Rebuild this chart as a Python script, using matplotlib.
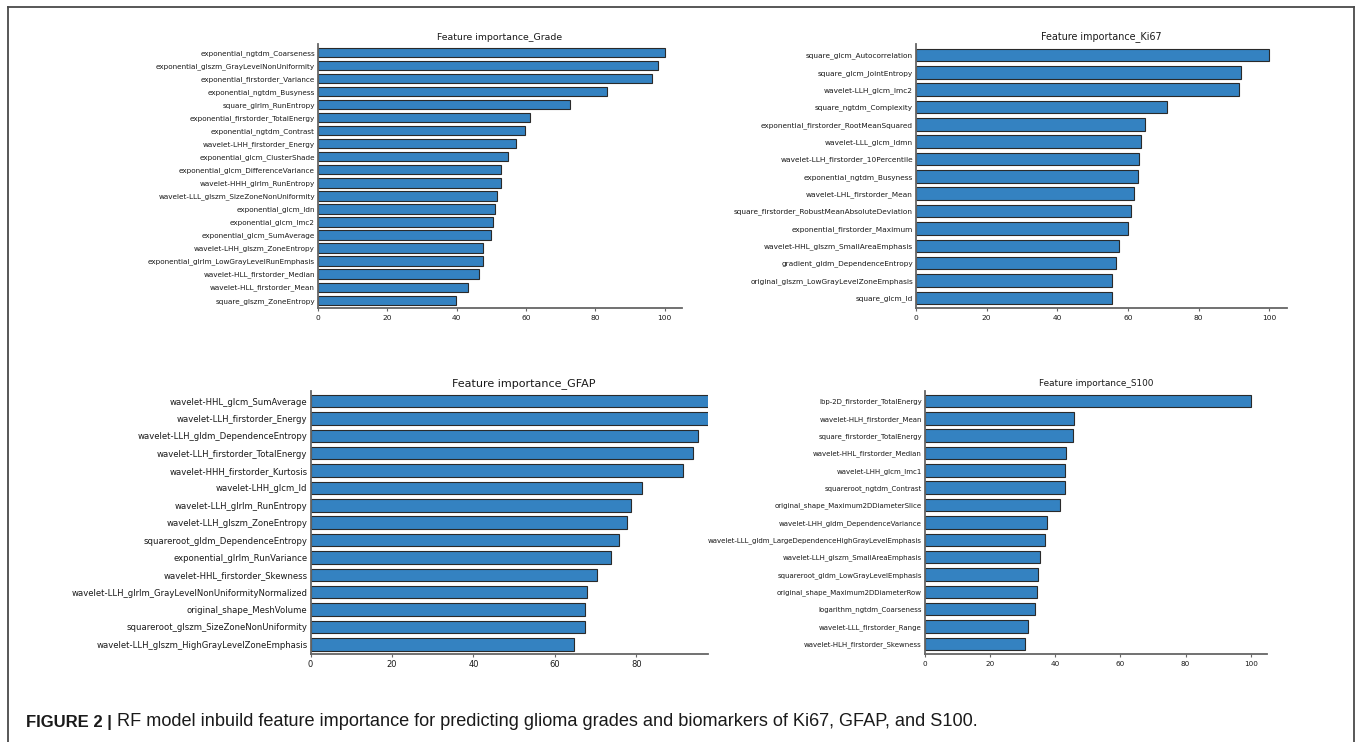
import matplotlib
matplotlib.use("Agg")
import matplotlib.pyplot as plt
from matplotlib.lines import Line2D

# ---------------- data ----------------
grade_features = [
    "exponential_ngtdm_Coarseness", "exponential_glszm_GrayLevelNonUniformity",
    "exponential_firstorder_Variance", "exponential_ngtdm_Busyness",
    "square_glrlm_RunEntropy", "exponential_firstorder_TotalEnergy",
    "exponential_ngtdm_Contrast", "wavelet-LHH_firstorder_Energy",
    "exponential_glcm_ClusterShade", "exponential_glcm_DifferenceVariance",
    "wavelet-HHH_glrlm_RunEntropy", "wavelet-LLL_glszm_SizeZoneNonUniformity",
    "exponential_glcm_Idn", "exponential_glcm_Imc2", "exponential_glcm_SumAverage",
    "wavelet-LHH_glszm_ZoneEntropy", "exponential_glrlm_LowGrayLevelRunEmphasis",
    "wavelet-HLL_firstorder_Median", "wavelet-HLL_firstorder_Mean",
    "square_glszm_ZoneEntropy",
]
grade_importance = [100, 98.2, 96.4, 83.4, 72.8, 61.1, 59.8, 57.0, 54.8, 52.7,
                    52.7, 51.7, 51.2, 50.5, 49.9, 47.7, 47.7, 46.4, 43.4, 39.7]

ki67_features = [
    "square_glcm_Autocorrelation", "square_glcm_JointEntropy", "wavelet-LLH_glcm_Imc2",
    "square_ngtdm_Complexity", "exponential_firstorder_RootMeanSquared",
    "wavelet-LLL_glcm_Idmn", "wavelet-LLH_firstorder_10Percentile",
    "exponential_ngtdm_Busyness", "wavelet-LHL_firstorder_Mean",
    "square_firstorder_RobustMeanAbsoluteDeviation", "exponential_firstorder_Maximum",
    "wavelet-HHL_glszm_SmallAreaEmphasis", "gradient_gldm_DependenceEntropy",
    "original_glszm_LowGrayLevelZoneEmphasis", "square_glcm_Id",
]
ki67_importance = [100, 92.1, 91.3, 70.9, 64.7, 63.7, 63.2, 62.9, 61.8, 60.8,
                   60.0, 57.4, 56.7, 55.6, 55.6]

gfap_features = [
    "wavelet-HHL_glcm_SumAverage", "wavelet-LLH_firstorder_Energy",
    "wavelet-LLH_gldm_DependenceEntropy", "wavelet-LLH_firstorder_TotalEnergy",
    "wavelet-HHH_firstorder_Kurtosis", "wavelet-LHH_glcm_Id",
    "wavelet-LLH_glrlm_RunEntropy", "wavelet-LLH_glszm_ZoneEntropy",
    "squareroot_gldm_DependenceEntropy", "exponential_glrlm_RunVariance",
    "wavelet-HHL_firstorder_Skewness", "wavelet-LLH_glrlm_GrayLevelNonUniformityNormalized",
    "original_shape_MeshVolume", "squareroot_glszm_SizeZoneNonUniformity",
    "wavelet-LLH_glszm_HighGrayLevelZoneEmphasis",
]
gfap_importance = [100, 99.5, 95.2, 93.9, 91.5, 81.4, 78.6, 77.6, 75.7, 73.8,
                   70.3, 67.9, 67.5, 67.4, 64.7]

s100_features = [
    "lbp-2D_firstorder_TotalEnergy", "wavelet-HLH_firstorder_Mean",
    "square_firstorder_TotalEnergy", "wavelet-HHL_firstorder_Median",
    "wavelet-LHH_glcm_Imc1", "squareroot_ngtdm_Contrast",
    "original_shape_Maximum2DDiameterSlice", "wavelet-LHH_gldm_DependenceVariance",
    "wavelet-LLL_gldm_LargeDependenceHighGrayLevelEmphasis",
    "wavelet-LLH_glszm_SmallAreaEmphasis", "squareroot_gldm_LowGrayLevelEmphasis",
    "original_shape_Maximum2DDiameterRow", "logarithm_ngtdm_Coarseness",
    "wavelet-LLL_firstorder_Range", "wavelet-HLH_firstorder_Skewness",
]
s100_importance = [100, 45.7, 45.4, 43.2, 43.0, 43.0, 41.6, 37.4, 36.8, 35.2,
                   34.8, 34.4, 33.8, 31.5, 30.6]

x_ticks = [0, 20, 40, 60, 80, 100]
caption_bold = "FIGURE 2 |"
caption_text = ("RF model inbuild feature importance for predicting glioma grades "
                "and biomarkers of Ki67, GFAP, and S100.")

# ---------------- styling ----------------
W, H = 1357, 742
BAR = "#3482c1"
EDGE = "#2a2a2a"
SPINE = "#666666"
TXT = "#1a1a1a"

plt.rcParams["font.family"] = ["DejaVu Sans"]
fig = plt.figure(figsize=(W / 100, H / 100), dpi=100)
fig.patch.set_facecolor("white")


def px_axes(x0, y0, x1, y1):
    return fig.add_axes([x0 / W, 1 - y1 / H, (x1 - x0) / W, (y1 - y0) / H])


def panel(ax, feats, vals, title, xmax, top_m, bot_m, ysize, xsize, tsize,
          title_x=0.5, pad=3.2):
    n = len(feats)
    pos = list(range(n))
    ax.barh(pos, vals, height=0.72, color=BAR, edgecolor=EDGE, linewidth=0.8)
    ax.set_yticks(pos)
    ax.set_yticklabels(feats, fontsize=ysize, color=TXT)
    ax.set_xticks(x_ticks)
    ax.set_xticklabels([str(t) for t in x_ticks], fontsize=xsize, color=TXT)
    ax.set_xlim(0, xmax)
    ax.set_ylim(n - 1 + bot_m, -top_m)
    for s in ("top", "right"):
        ax.spines[s].set_visible(False)
    for s in ("left", "bottom"):
        ax.spines[s].set_color(SPINE)
        ax.spines[s].set_linewidth(1.3)
    ax.tick_params(axis="y", length=0, pad=2.2)
    ax.tick_params(axis="x", length=2.5, width=0.8, color=SPINE, pad=2.2)
    t = ax.set_title(title, fontsize=tsize, color=TXT, pad=pad)
    t.set_x(title_x)


ax1 = px_axes(318, 44, 682, 308)
panel(ax1, grade_features, grade_importance, "Feature importance_Grade", 105,
      0.636, 0.59, 5.25, 5.4, 6.75)

ax2 = px_axes(916, 44, 1287, 308)
panel(ax2, ki67_features, ki67_importance, "Feature importance_Ki67", 105,
      0.634, 0.59, 5.3, 5.4, 6.9)

ax3 = px_axes(310.5, 390.7, 707.7, 653.7)
panel(ax3, gfap_features, gfap_importance, "Feature importance_GFAP", 97.5,
      0.593, 0.54, 6.1, 6.0, 8.0, title_x=0.538, pad=3.6)

ax4 = px_axes(925, 390.7, 1267, 654)
panel(ax4, s100_features, s100_importance, "Feature importance_S100", 105,
      0.59, 0.58, 5.0, 5.2, 6.4, pad=3.6)

# frame around the figure panel (open at bottom edge)
frame_kw = dict(color="#4a4a4a", linewidth=1.3, transform=fig.transFigure)
fig.add_artist(Line2D([8 / W, 8 / W], [0, 1 - 6.5 / H], **frame_kw))
fig.add_artist(Line2D([8 / W, 1354 / W], [1 - 6.5 / H, 1 - 6.5 / H], **frame_kw))
fig.add_artist(Line2D([1354 / W, 1354 / W], [1 - 6.5 / H, 0], **frame_kw))

# caption
cap_y = 1 - 722 / H
cap_family = ["Liberation Sans", "DejaVu Sans"]
tb = fig.text(26 / W, cap_y, caption_bold, fontsize=12, fontweight="bold",
              family=cap_family, color=TXT, va="center", ha="left")
fig.canvas.draw()
bb = tb.get_window_extent()
x_start = bb.x1 + 5
tr = fig.text(x_start / W, cap_y, caption_text, fontsize=13,
              family=cap_family, color=TXT, va="center", ha="left")
fig.canvas.draw()
w_now = tr.get_window_extent().width
target_end = 976
tr.set_fontsize(13 * (target_end - x_start) / w_now)

fig.savefig("out.png", dpi=100, facecolor="white")
